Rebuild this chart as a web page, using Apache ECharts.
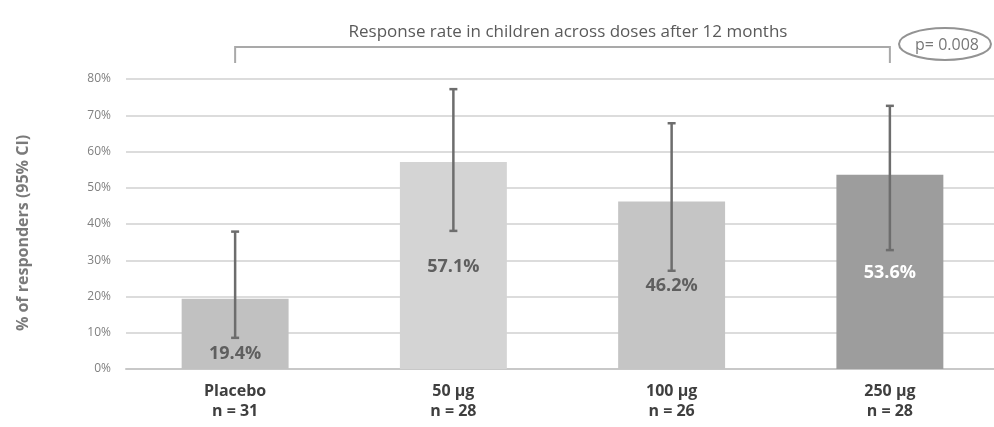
<!DOCTYPE html>
<html>
<head>
<meta charset="utf-8">
<script src="https://cdn.jsdelivr.net/npm/echarts@6/dist/echarts.min.js"></script>
<style>
  html, body { margin: 0; padding: 0; background: #fff; }
  #main { width: 994px; height: 427px; }
</style>
</head>
<body>
<div id="main"></div>
<script>
// data
var doses = ['Placebo', '50 µg', '100 µg', '250 µg'];
var groupN = ['n = 31', 'n = 28', 'n = 26', 'n = 28'];
var responders = [19.4, 57.1, 46.2, 53.6];
var ciLow = [8.6, 38.1, 27.1, 32.8];
var ciHigh = [37.9, 77.2, 67.8, 72.6];
var pValueText = 'p= 0.008';

var barColors = ['#c1c1c1', '#d4d4d4', '#c5c5c5', '#9d9d9d'];
var labelColors = ['#5f5f5f', '#5f5f5f', '#5f5f5f', '#ffffff'];

var font = '"Open Sans", "Liberation Sans", sans-serif';
var chart = echarts.init(document.getElementById('main'), null, { renderer: 'canvas' });

var barData = responders.map(function (v, i) {
  return {
    value: v,
    itemStyle: { color: barColors[i] },
    label: {
      color: labelColors[i],
      offset: i === 0 ? [0, 20] : [0, 1]
    }
  };
});

var errData = doses.map(function (d, i) {
  return [i, ciLow[i], ciHigh[i]];
});

var option = {
  animation: false,
  backgroundColor: '#ffffff',
  title: {
    text: 'Response rate in children across doses after 12 months',
    left: 563,
    textAlign: 'center',
    top: 19,
    textStyle: { fontFamily: font, fontSize: 17, fontWeight: 'normal', color: '#5a5a5a' }
  },
  // plot runs a little past the right edge, as in the source image
  grid: { left: 126, width: 873, top: 79, bottom: 58, outerBoundsMode: 'none', containLabel: false },
  xAxis: {
    type: 'category',
    data: doses,
    axisTick: { show: false },
    axisLine: { lineStyle: { color: '#c8c8c8', width: 2 } },
    axisLabel: {
      margin: 12,
      formatter: function (v, i) {
        return '{a|' + v + '}\n{a|' + groupN[i] + '}';
      },
      rich: {
        a: { fontFamily: font, fontSize: 16, fontWeight: 'bold', color: '#3f3f3f', lineHeight: 20 }
      }
    }
  },
  yAxis: {
    type: 'value',
    min: 0,
    max: 80,
    interval: 10,
    name: '% of responders (95% CI)',
    nameLocation: 'middle',
    nameGap: 95,
    nameTextStyle: { fontFamily: font, fontSize: 16, fontWeight: 'bold', color: '#7a7a7a', padding: [0, 0, 0, -18] },
    axisLine: { show: false },
    axisTick: { show: false },
    axisLabel: {
      margin: 15,
      formatter: '{value}%',
      fontFamily: font,
      fontSize: 12,
      color: '#808080'
    },
    splitLine: { lineStyle: { color: '#dcdcdc', width: 2 } }
  },
  series: [
    {
      type: 'bar',
      data: barData,
      barWidth: '49%',
      label: {
        show: true,
        position: 'inside',
        formatter: function (p) { return p.value.toFixed(1) + '%'; },
        fontFamily: font,
        fontSize: 18,
        fontWeight: 'bold'
      },
      z: 2
    },
    {
      type: 'custom',
      data: errData,
      z: 5,
      renderItem: function (params, api) {
        var x = api.value(0);
        var lo = api.coord([x, api.value(1)]);
        var hi = api.coord([x, api.value(2)]);
        var cap = 4;
        var st = { stroke: '#6d6d6d', lineWidth: 2.5 };
        return {
          type: 'group',
          children: [
            { type: 'line', shape: { x1: lo[0], y1: lo[1], x2: hi[0], y2: hi[1] }, style: st },
            { type: 'line', shape: { x1: hi[0] - cap, y1: hi[1], x2: hi[0] + cap, y2: hi[1] }, style: st },
            { type: 'line', shape: { x1: lo[0] - cap, y1: lo[1], x2: lo[0] + cap, y2: lo[1] }, style: st }
          ]
        };
      }
    }
  ]
};

chart.setOption(option);

// comparison bracket placebo -> 250 µg, with the p value in an ellipse
var xa = chart.convertToPixel({ xAxisIndex: 0 }, 0);
var xb = chart.convertToPixel({ xAxisIndex: 0 }, doses.length - 1);
var yTop = 47, yEnd = 63;
chart.setOption({
  graphic: [
    {
      type: 'polyline',
      shape: { points: [[xa, yEnd], [xa, yTop], [xb, yTop], [xb, yEnd]] },
      style: { stroke: '#a9a9a9', lineWidth: 2, fill: null }
    },
    {
      type: 'ellipse',
      shape: { cx: 945, cy: 44, rx: 46, ry: 16 },
      style: { stroke: '#939393', lineWidth: 2, fill: null }
    },
    {
      type: 'text',
      x: 947,
      y: 45,
      style: {
        text: pValueText,
        fontFamily: font,
        fontSize: 16,
        fill: '#777777',
        align: 'center',
        verticalAlign: 'middle'
      }
    }
  ]
});
</script>
</body>
</html>
